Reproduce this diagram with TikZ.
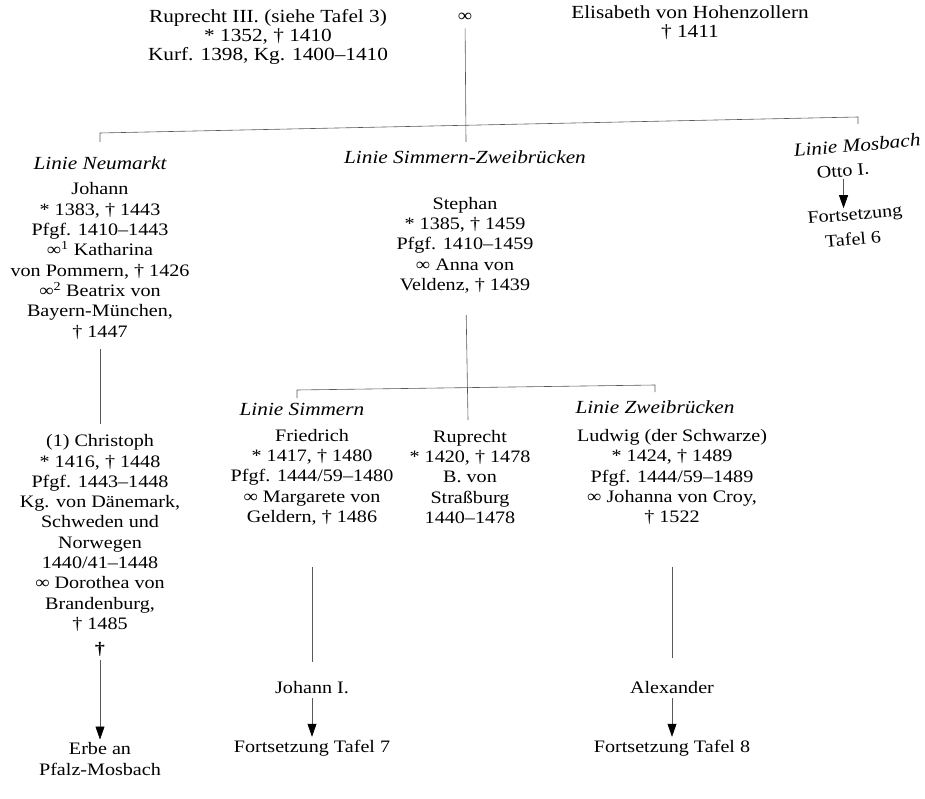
\documentclass[tikz,border=0pt]{standalone}
\usepackage{fontspec}
\setmainfont{Liberation Serif}[FakeStretch=1.15]
\usetikzlibrary{arrows.meta}
\newcommand\myfs{\fontsize{17.5}{20.3}\selectfont}
\newcommand\myfstop{\fontsize{18.5}{19.3}\selectfont}
\newcommand\myfslbl{\fontsize{18.5}{22}\selectfont}
\begin{document}
\begin{tikzpicture}[x=1pt,y=-1pt,
  txt/.style={align=center,font=\myfs,inner sep=0pt},
  toptxt/.style={align=center,font=\myfstop,inner sep=0pt},
  lbl/.style={font=\myfslbl\itshape,inner sep=0pt},
  ln/.style={line width=0.6pt,black!65},
  arr/.style={line width=0.6pt,black!65,-{Triangle[length=13pt,width=9pt,black]},shorten <=4pt,shorten >=3pt}]
\useasboundingbox (0,0) rectangle (925,799);
\fill[white] (0,0) rectangle (925,799);

% generation 1
\node[toptxt] (rup) at (268,37) {Ruprecht III. (siehe Tafel 3)\\* 1352, † 1410\\Kurf. 1398, Kg. 1400–1410};
\node[txt] (marr) at (465,17) {∞};
\node[toptxt] (eli) at (690,23) {Elisabeth von Hohenzollern\\† 1411};

\coordinate (tl) at (100,142);
\coordinate (hl) at (100,133);
\coordinate (hr) at (858,117);
\coordinate (tr) at (858,124);
\coordinate (jv) at (466,142);
\draw[ln,shorten <=7pt] (marr) -- (jv);
\draw[ln] (tl) -- (hl) -- (hr) -- (tr);

% lines
\node[lbl] (lneu) at (100,163) {Linie Neumarkt};
\node[lbl] (lsz) at (465,157) {Linie Simmern-Zweibrücken};
\node[lbl,rotate=5] (lmos) at (857,145) {Linie Mosbach};

% Mosbach
\node[txt,rotate=5] (otto) at (843,171) {Otto I.};
\node[txt,rotate=5] (fort6) at (855,216) {Fortsetzung};
\node[txt,rotate=5] (taf6) at (853,239) {Tafel 6};
\draw[arr,shorten <=2pt,shorten >=0pt] (otto.south) -- (otto.south |- fort6.north);

% Neumarkt
\node[txt] (joh) at (100,261) {Johann\\* 1383, † 1443\\Pfgf. 1410–1443\\∞\textsuperscript{1} Katharina\\von Pommern, † 1426\\∞\textsuperscript{2} Beatrix von\\Bayern-München,\\† 1447};
\node[txt] (chr) at (100,533) {(1) Christoph\\* 1416, † 1448\\Pfgf. 1443–1448\\Kg. von Dänemark,\\Schweden und\\Norwegen\\1440/41–1448\\∞ Dorothea von\\Brandenburg,\\† 1485};
\draw[ln,shorten <=10pt,shorten >=10pt] (joh) -- (chr);
\node[txt] (dag) at (100,649) {\textbf{†}};
\node[txt] (erbe) at (100,759) {Erbe an\\Pfalz-Mosbach};
\draw[arr] (dag) -- (erbe);

% Simmern-Zweibruecken
\node[txt] (steph) at (465,245) {Stephan\\* 1385, † 1459\\Pfgf. 1410–1459\\∞ Anna von\\Veldenz, † 1439};
\coordinate (sv) at (468,420);
\draw[ln,shorten <=22pt] (steph) -- (sv);
\coordinate (stl) at (297,398);
\coordinate (shl) at (297,390);
\coordinate (shr) at (655,385);
\coordinate (str) at (655,392);
\draw[ln] (stl) -- (shl) -- (shr) -- (str);

\node[lbl] (lsim) at (302,409) {Linie Simmern};
\node[lbl] (lzwe) at (655,407) {Linie Zweibrücken};

\node[txt] (fri) at (312,477) {Friedrich\\* 1417, † 1480\\Pfgf. 1444/59–1480\\∞ Margarete von\\Geldern, † 1486};
\node[txt] (rupr) at (470,477) {Ruprecht\\* 1420, † 1478\\B. von\\Straßburg\\1440–1478};
\node[txt] (lud) at (672,477) {Ludwig (der Schwarze)\\* 1424, † 1489\\Pfgf. 1444/59–1489\\∞ Johanna von Croy,\\† 1522};

\node[txt] (joh1) at (312,688) {Johann I.};
\node[txt] (fort7) at (312,748) {Fortsetzung Tafel 7};
\draw[ln,shorten <=42pt,shorten >=20pt] (fri) -- (joh1);
\draw[arr] (joh1) -- (fort7);

\node[txt] (alex) at (672,688) {Alexander};
\node[txt] (fort8) at (672,748) {Fortsetzung Tafel 8};
\draw[ln,shorten <=42pt,shorten >=24pt] (lud) -- (alex);
\draw[arr] (alex) -- (fort8);
\end{tikzpicture}
\end{document}
